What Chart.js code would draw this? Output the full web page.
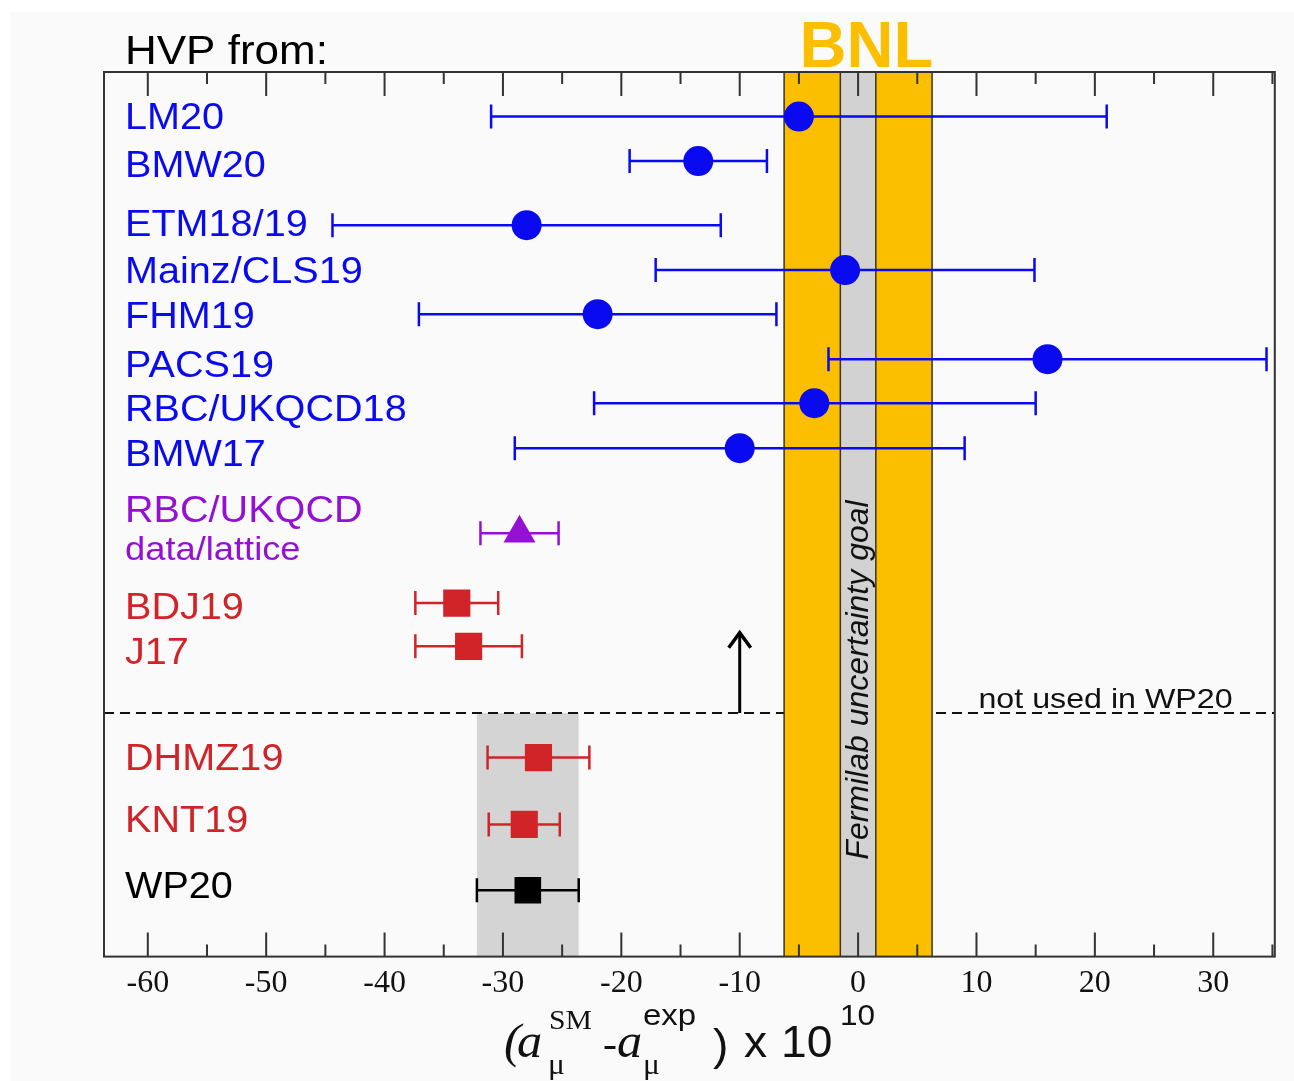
<!DOCTYPE html>
<html>
<head>
<meta charset="utf-8">
<title>HVP comparison</title>
<script src="https://cdn.jsdelivr.net/npm/chart.js@4.4.1/dist/chart.umd.min.js"></script>
<style>
  html, body { margin: 0; padding: 0; background: #ffffff; }
  #wrap { width: 1294px; height: 1081px; }
</style>
</head>
<body>
<div id="wrap"><canvas id="js-chart-hvp" width="1294" height="1081"></canvas></div>
<script>
// Data (x values in units of 10^-10)
const names = ['LM20', 'BMW20', 'ETM18/19', 'Mainz/CLS19', 'FHM19', 'PACS19', 'RBC/UKQCD18', 'BMW17',
  'RBC/UKQCD', 'BDJ19', 'J17', 'DHMZ19', 'KNT19', 'WP20'];
const groups = ['lattice', 'lattice', 'lattice', 'lattice', 'lattice', 'lattice', 'lattice', 'lattice',
  'hybrid', 'pheno', 'pheno', 'pheno', 'pheno', 'wp'];
const rows = [1, 2, 3.44, 4.45, 5.44, 6.45, 7.44, 8.45, 10.36, 11.93, 12.9, 15.4, 16.9, 18.38];
const central = [-5.0, -13.5, -28.0, -1.1, -22.0, 16.0, -3.7, -10.0, -28.6, -33.9, -32.9, -27.0, -28.2, -27.9];
const errLow = [26.0, 5.8, 16.4, 16.0, 15.1, 18.5, 18.6, 19.0, 3.3, 3.5, 4.5, 4.3, 3.0, 4.3];
const errHigh = [26.0, 5.8, 16.4, 16.0, 15.1, 18.5, 18.7, 19.0, 3.3, 3.5, 4.5, 4.3, 3.0, 4.3];

// Label rows (text placement) and extra labels
const labelRows = [1.06, 2.13, 3.46, 4.52, 5.53, 6.63, 7.62, 8.63, 9.89, 12.07, 13.08, 15.46, 16.85, 18.34];
const subLabel = {text: 'data/lattice', row: 10.76};

// Bands and markers of the layout
const bnlBand = [-6.25, 6.25];
const fnalBand = [-1.5, 1.5];
const wpBand = [-32.2, -23.6];
const splitRow = 14.4;
const arrowX = -10;
const arrowTopRow = 12.55;

const xTicks = [-60, -50, -40, -30, -20, -10, 0, 10, 20, 30];
const xMin = -63.7, xMax = 35.2;
const yMin = 0, yMax = 19.87;

const colors = {
  lattice: '#0a0af0',
  hybrid: '#9410d4',
  pheno: '#d02428',
  wp: '#000000'
};
const pointStyles = {lattice: 'circle', hybrid: 'triangle', pheno: 'rect', wp: 'rect'};
const pointRadius = {lattice: 15, hybrid: 18.5, pheno: 19.2, wp: 18.8};

const SANS = '"Liberation Sans", Arial, sans-serif';
const SERIF = '"Liberation Serif", "Times New Roman", serif';

function buildDatasets() {
  let order = ['lattice', 'hybrid', 'pheno', 'wp'];
  return order.map(function (g) {
    let pts = [];
    for (let i = 0; i < names.length; i++) {
      if (groups[i] === g) pts.push({x: central[i], y: rows[i], i: i});
    }
    return {
      label: g,
      data: pts,
      pointStyle: pointStyles[g],
      pointRadius: pointRadius[g],
      pointHoverRadius: pointRadius[g],
      backgroundColor: colors[g],
      borderColor: colors[g],
      borderWidth: 0,
      showLine: false
    };
  });
}

function stretchedText(ctx, text, x, y, font, color, sx, align) {
  ctx.save();
  ctx.font = font;
  ctx.fillStyle = color;
  ctx.textAlign = align || 'left';
  ctx.translate(x, y);
  ctx.scale(sx, 1);
  ctx.fillText(text, 0, 0);
  ctx.restore();
}

// Background, bands, split line, error bars (below markers)
const underlayPlugin = {
  id: 'underlay',
  beforeDraw(chart) {
    const ctx = chart.ctx;
    ctx.save();
    ctx.fillStyle = '#fafafa';
    ctx.fillRect(11, 12, chart.width - 11, chart.height - 12);
    ctx.restore();
  },
  beforeDatasetsDraw(chart) {
    const ctx = chart.ctx, xs = chart.scales.x, ys = chart.scales.y, a = chart.chartArea;
    ctx.save();

    // WP20 band
    ctx.fillStyle = '#d4d4d4';
    let ySplit = ys.getPixelForValue(splitRow);
    ctx.fillRect(xs.getPixelForValue(wpBand[0]), ySplit, xs.getPixelForValue(wpBand[1]) - xs.getPixelForValue(wpBand[0]), a.bottom - ySplit);

    // dashed split line
    ctx.strokeStyle = '#111';
    ctx.lineWidth = 2;
    ctx.setLineDash([10, 6]);
    ctx.beginPath();
    ctx.moveTo(a.left, ySplit);
    ctx.lineTo(a.right, ySplit);
    ctx.stroke();
    ctx.setLineDash([]);

    // not used in WP20
    stretchedText(ctx, 'not used in WP20', xs.getPixelForValue(20.9), ySplit - 5, '28px ' + SANS, '#111', 1.15, 'center');

    // arrow
    let ax = xs.getPixelForValue(arrowX), at = ys.getPixelForValue(arrowTopRow);
    ctx.strokeStyle = '#000';
    ctx.lineWidth = 3;
    ctx.beginPath();
    ctx.moveTo(ax, ySplit);
    ctx.lineTo(ax, at + 1);
    ctx.stroke();
    ctx.lineWidth = 3.5;
    ctx.beginPath();
    ctx.moveTo(ax - 11, at + 17);
    ctx.lineTo(ax, at + 2);
    ctx.lineTo(ax + 11, at + 17);
    ctx.stroke();

    // BNL band with Fermilab goal
    let b0 = xs.getPixelForValue(bnlBand[0]), b1 = xs.getPixelForValue(bnlBand[1]);
    let f0 = xs.getPixelForValue(fnalBand[0]), f1 = xs.getPixelForValue(fnalBand[1]);
    ctx.fillStyle = '#fcbf00';
    ctx.fillRect(b0, a.top, b1 - b0, a.bottom - a.top);
    ctx.fillStyle = '#d2d2d2';
    ctx.fillRect(f0, a.top, f1 - f0, a.bottom - a.top);
    ctx.strokeStyle = '#3a3320';
    ctx.lineWidth = 1.5;
    [b0, f0, f1, b1].forEach(function (px) {
      ctx.beginPath();
      ctx.moveTo(px, a.top);
      ctx.lineTo(px, a.bottom);
      ctx.stroke();
    });

    // Fermilab text
    ctx.save();
    ctx.translate((f0 + f1) / 2 + 1, 680);
    ctx.rotate(-Math.PI / 2);
    ctx.font = 'italic 32px ' + SANS;
    ctx.fillStyle = '#111';
    ctx.textAlign = 'center';
    ctx.textBaseline = 'middle';
    ctx.fillText('Fermilab uncertainty goal', 0, 0);
    ctx.restore();

    // error bars
    ctx.lineWidth = 2.5;
    for (let i = 0; i < names.length; i++) {
      let y = ys.getPixelForValue(rows[i]);
      let xl = xs.getPixelForValue(central[i] - errLow[i]);
      let xr = xs.getPixelForValue(central[i] + errHigh[i]);
      ctx.strokeStyle = colors[groups[i]];
      ctx.beginPath();
      ctx.moveTo(xl, y);
      ctx.lineTo(xr, y);
      ctx.moveTo(xl, y - 12);
      ctx.lineTo(xl, y + 12);
      ctx.moveTo(xr, y - 12);
      ctx.lineTo(xr, y + 12);
      ctx.stroke();
    }
    ctx.restore();
  }
};

// Frame, ticks, labels, title
const overlayPlugin = {
  id: 'overlay',
  afterDatasetsDraw(chart) {
    const ctx = chart.ctx, xs = chart.scales.x, ys = chart.scales.y, a = chart.chartArea;
    ctx.save();

    // frame
    ctx.strokeStyle = '#333';
    ctx.lineWidth = 2;
    ctx.strokeRect(a.left, a.top, a.right - a.left, a.bottom - a.top);

    // inward ticks, major every 10 and minor every 5
    ctx.lineWidth = 2;
    for (let v = -60; v <= 35; v += 5) {
      let px = xs.getPixelForValue(v);
      let len = (v % 10 === 0) ? 24 : 12;
      ctx.beginPath();
      ctx.moveTo(px, a.top);
      ctx.lineTo(px, a.top + len);
      ctx.moveTo(px, a.bottom);
      ctx.lineTo(px, a.bottom - len);
      ctx.stroke();
    }

    // row labels
    ctx.textBaseline = 'middle';
    for (let i = 0; i < names.length; i++) {
      stretchedText(ctx, names[i], a.left + 21, ys.getPixelForValue(labelRows[i]), '36px ' + SANS, colors[groups[i]], 1.1);
    }
    stretchedText(ctx, subLabel.text, a.left + 21, ys.getPixelForValue(subLabel.row), '33px ' + SANS, colors.hybrid, 1.1);

    // header texts
    ctx.textBaseline = 'alphabetic';
    stretchedText(ctx, 'HVP from:', 125, 64, '40px ' + SANS, '#000', 1.1);
    stretchedText(ctx, 'BNL', xs.getPixelForValue(0.7), 67, 'bold 65px ' + SANS, '#fcbf00', 1.0, 'center');
    ctx.restore();
  },
  afterDraw(chart) {
    const ctx = chart.ctx;
    ctx.save();
    ctx.fillStyle = '#000';
    ctx.textBaseline = 'alphabetic';
    const put = function (t, x, y, font, sx) { stretchedText(ctx, t, x, y, font, '#111', sx || 1.05); };
    put('(', 504, 1057, 'italic 48px ' + SERIF);
    put('a', 517, 1057, 'italic 48px ' + SERIF);
    put('SM', 549, 1029, '27px ' + SERIF, 1.1);
    put('\u03bc', 548, 1074, '30px ' + SERIF);
    put('-', 603, 1057, '40px ' + SERIF);
    put('a', 617, 1057, 'italic 48px ' + SERIF);
    put('exp', 643, 1025, '30px ' + SANS, 1.1);
    put('\u03bc', 643, 1074, '30px ' + SERIF);
    put(')', 713, 1060, '44px ' + SANS);
    put('x', 744, 1057, '44px ' + SANS);
    put('10', 781, 1057, '44px ' + SANS);
    put('10', 840, 1025, '30px ' + SANS);
    ctx.restore();
  }
};

let hvpChart = new Chart(document.getElementById('js-chart-hvp'), {
  type: 'scatter',
  data: {datasets: buildDatasets()},
  options: {
    responsive: false,
    animation: false,
    events: [],
    layout: {padding: {left: 104, right: 18, top: 72, bottom: 70}},
    scales: {
      x: {
        type: 'linear',
        min: xMin,
        max: xMax,
        afterBuildTicks: function (axis) { axis.ticks = xTicks.map(function (v) { return {value: v}; }); },
        ticks: {
          color: '#111',
          padding: 8,
          font: {family: SERIF, size: 32},
          maxRotation: 0,
          callback: function (v) { return String(v); }
        },
        grid: {display: false, drawTicks: false},
        border: {display: false}
      },
      y: {
        type: 'linear',
        display: false,
        min: yMin,
        max: yMax,
        reverse: true
      }
    },
    plugins: {
      legend: {display: false},
      tooltip: {enabled: false}
    }
  },
  plugins: [underlayPlugin, overlayPlugin]
});
</script>
</body>
</html>
